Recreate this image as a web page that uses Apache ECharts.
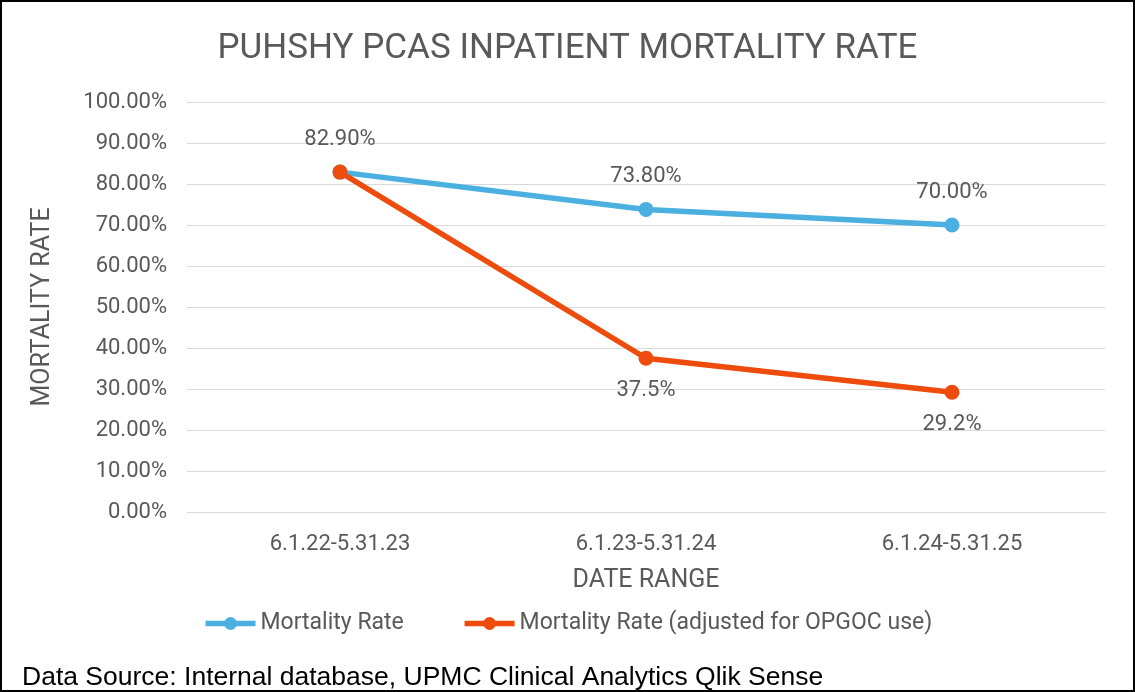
<!DOCTYPE html>
<html>
<head>
<meta charset="utf-8">
<script src="https://cdn.jsdelivr.net/npm/echarts@6/dist/echarts.min.js"></script>
<style>
  * { margin: 0; padding: 0; }
  html, body { width: 1135px; height: 692px; background: #fff; overflow: hidden; }
  #main { width: 1135px; height: 692px; box-sizing: border-box; border: 2px solid #000; }
</style>
</head>
<body>
<div id="main"></div>
<script>
// data
var dateRanges = ['6.1.22-5.31.23', '6.1.23-5.31.24', '6.1.24-5.31.25'];
var mortalityRate = [82.9, 73.8, 70.0];
var adjustedRate = [82.9, 37.5, 29.2];
var mortalityLabels = ['82.90%', '73.80%', '70.00%'];
var adjustedLabels = ['', '37.5%', '29.2%'];
var yTicks = [0, 10, 20, 30, 40, 50, 60, 70, 80, 90, 100];

var grey = '#595959';
var font = 'Roboto';

var chart = echarts.init(document.getElementById('main'));
chart.setOption({
  animation: false,
  textStyle: { fontFamily: font },
  color: ['#4BAFE0', '#EE4C0C'],
  title: {
    text: 'PUHSHY PCAS INPATIENT MORTALITY RATE',
    left: 'center',
    top: 25,
    textStyle: { color: grey, fontSize: 35, fontWeight: 'normal', fontFamily: font }
  },
  legend: {
    bottom: 50,
    left: 'center',
    itemWidth: 50,
    itemHeight: 16,
    itemGap: 58,
    lineStyle: { width: 5.5 },
    textStyle: { color: grey, fontSize: 23, fontFamily: font },
    data: ['Mortality Rate', 'Mortality Rate (adjusted for OPGOC use)']
  },
  grid: { left: 185, right: 28, top: 100, bottom: 178 },
  xAxis: {
    type: 'category',
    data: dateRanges,
    boundaryGap: true,
    name: 'DATE RANGE',
    nameLocation: 'middle',
    nameGap: 56,
    nameTextStyle: { color: grey, fontSize: 25 },
    axisLine: { lineStyle: { color: '#d9d9d9', width: 1 } },
    axisTick: { show: false },
    axisLabel: { color: grey, fontSize: 22, margin: 21 }
  },
  yAxis: {
    type: 'value',
    min: yTicks[0],
    max: yTicks[yTicks.length - 1],
    interval: 10,
    name: 'MORTALITY RATE',
    nameLocation: 'middle',
    nameGap: 132,
    nameTextStyle: { color: grey, fontSize: 25 },
    axisLine: { show: false },
    axisTick: { show: false },
    splitLine: { lineStyle: { color: '#d9d9d9', width: 1 } },
    axisLabel: {
      color: grey, fontSize: 22, margin: 20,
      formatter: function (v) { return v.toFixed(2) + '%'; }
    }
  },
  series: [
    {
      name: 'Mortality Rate',
      type: 'line',
      data: mortalityRate,
      symbol: 'circle',
      symbolSize: 15,
      lineStyle: { width: 5.5 },
      label: {
        show: true, position: 'top', distance: 14,
        color: grey, fontSize: 22,
        formatter: function (p) { return mortalityLabels[p.dataIndex]; }
      }
    },
    {
      name: 'Mortality Rate (adjusted for OPGOC use)',
      type: 'line',
      data: adjustedRate,
      symbol: 'circle',
      symbolSize: 15,
      lineStyle: { width: 5.5 },
      label: {
        show: true, position: 'bottom', distance: 14,
        color: grey, fontSize: 22,
        formatter: function (p) { return adjustedLabels[p.dataIndex]; }
      }
    }
  ],
  graphic: [
    {
      type: 'text',
      left: 20,
      top: 662,
      style: {
        text: 'Data Source: Internal database, UPMC Clinical Analytics Qlik Sense',
        fill: '#000',
        font: '26.5px "Liberation Sans"'
      }
    }
  ]
});
</script>
</body>
</html>
